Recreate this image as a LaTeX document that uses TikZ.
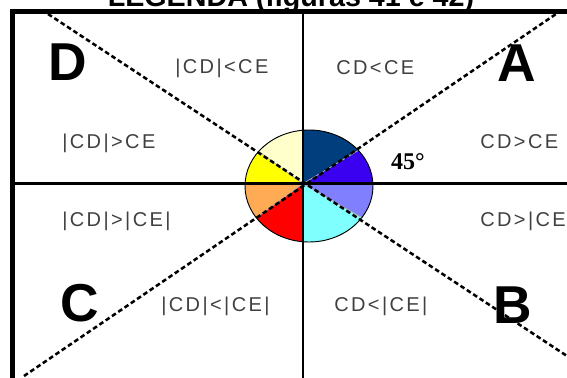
\documentclass[tikz,border=0pt]{standalone}
\usepackage{fontspec}
\setmainfont{Liberation Sans}
\newfontfamily\lblfont[LetterSpace=12]{Liberation Sans}
\newfontfamily\degfont{Liberation Serif}
\usepackage{tikz}
\usetikzlibrary{positioning}
\usetikzlibrary{calc}

\definecolor{pienavy}{RGB}{0,62,125}
\definecolor{pieviolet}{RGB}{58,0,240}
\definecolor{pieperi}{RGB}{128,128,255}
\definecolor{piecyan}{RGB}{128,255,255}
\definecolor{piered}{RGB}{255,0,0}
\definecolor{pieorange}{RGB}{255,170,85}
\definecolor{pieyellow}{RGB}{255,255,0}
\definecolor{piecream}{RGB}{255,255,204}

\begin{document}
\begin{tikzpicture}[x=0.75pt, y=0.75pt,
    quad/.style={font=\lblfont\fontsize{15}{15}\selectfont, text=black!75, inner sep=0pt, anchor=west},
    corner/.style={font=\fontsize{40}{40}\selectfont\bfseries, inner sep=0pt},
    diag/.style={line width=1.9pt, dash pattern=on 3.5pt off 2.2pt},
    axis/.style={line width=2pt}]
    \useasboundingbox (0,0) rectangle (567,378);

    \coordinate (o) at (303,194.3);
    \coordinate (e) at (309,192);

    % pie
    \begin{scope}
        \clip (e) ellipse [x radius=64, y radius=56];
        \foreach \a/\b/\c in {0/31/pieviolet, 31/90/pienavy, 90/144/piecream, 144/180/pieyellow,
                              180/216/pieorange, 216/270/piered, 270/330/piecyan, 330/360/pieperi}
            \fill[\c, shift={(o)}] (0,0) -- (\a:150) -- ({(\a+\b)/2}:150) -- (\b:150) -- cycle;
        \foreach \a in {31,144,216,330}
            \draw[black!30, line width=0.6pt, shift={(o)}] (0,0) -- (\a:150);
    \end{scope}
    \draw[line width=0.7pt] (e) ellipse [x radius=64, y radius=56];

    % frame
    \coordinate (fbl) at (12.5,0);
    \coordinate (ftl) at (12.5,366.3);
    \coordinate (ftr) at (580,366.3);
    \draw[line width=3.75pt] (fbl) -- (ftl) -- (ftr);

    % axes
    \coordinate (vt) at (303,366.3);
    \coordinate (vb) at (303,0);
    \coordinate (hl) at (12.5,194.3);
    \coordinate (hr) at (567,194.3);
    \draw[axis] (vt) -- (vb);
    \draw[axis] (hl) -- (hr);

    % diagonals
    \coordinate (dtl) at (48,364);
    \coordinate (bbr) at (567,22);
    \coordinate (cbl) at (24,2);
    \coordinate (atr) at (556,364);
    \draw[diag] (dtl) -- (bbr);
    \draw[diag] (cbl) -- (atr);

    \node[font=\fontsize{21.5}{21.5}\selectfont\bfseries, anchor=base, inner sep=0pt] (title) at (291,371) {LEGENDA (figuras 41 e 42)};

    \node[corner] (d) at (67.5,316) {D};
    \node[corner] (a) at (517,315) {A};
    \node[corner] (c) at (80,75) {C};
    \node[corner] (b) at (513,73) {B};

    \node[font=\degfont\fontsize{18}{18}\selectfont\bfseries, inner sep=0pt] (ang) at (408,216) {45°};

    % quadrant labels
    \node[quad] (q1) at (175,310) {|CD|<CE};
    \node[quad] (q2) at (336,310) {CD<CE};
    \node[quad] (q3) at (62,234.5) {|CD|>CE};
    \node[quad] (q4) at (480,236) {CD>CE};
    \node[quad] (q5) at (62,156.5) {|CD|>|CE|};
    \node[quad] (q6) at (480,156.5) {CD>|CE|};
    \node[quad] (q7) at (161,72) {|CD|<|CE|};
    \node[quad] (q8) at (334,72) {CD<|CE|};
\end{tikzpicture}
\end{document}
